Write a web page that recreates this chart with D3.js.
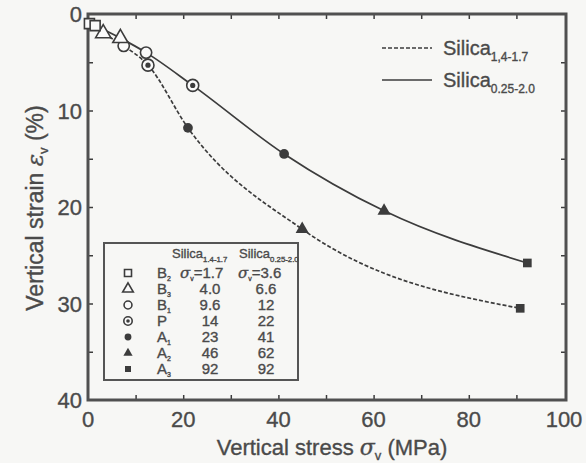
<!DOCTYPE html>
<html>
<head>
<meta charset="utf-8">
<script src="https://cdn.jsdelivr.net/npm/d3@7"></script>
<style>
  body { margin: 0; background: #f7f7f5; }
  svg { display: block; font-family: "Liberation Sans", Arial, sans-serif; }
  text { stroke: #4a4a4a; stroke-width: 0.35px; }
</style>
</head>
<body>
<svg id="chart" width="586" height="463"></svg>
<script>
// stages in loading order (legend rows)
var stages = ['B', 'B', 'B', 'P', 'A', 'A', 'A'];
var stageSubs = ['2', '3', '1', '', '1', '2', '3'];
var symbols = ['square', 'triangle', 'circle', 'circledot', 'disc', 'triangleFill', 'squareFill'];

// Silica 1.4-1.7 (dashed)
var fineStress = [0.3, 3.2, 7.5, 12.6, 21, 45, 90.8];
var fineStrain = [1.0, 2.0, 3.3, 5.3, 11.8, 22.3, 30.5];
var fineLabels = ['1.7', '4.0', '9.6', '14', '23', '46', '92'];

// Silica 0.25-2.0 (solid)
var coarseStress = [1.5, 6.8, 12.2, 22, 41.2, 62.2, 92.3];
var coarseStrain = [1.2, 2.5, 4.0, 7.4, 14.5, 20.4, 25.8];
var coarseLabels = ['3.6', '6.6', '12', '22', '41', '62', '92'];

var xTicks = [0, 20, 40, 60, 80, 100];
var yTicks = [0, 10, 20, 30, 40];

var ink = '#3c3c3c';
var textCol = '#4a4a4a';

var svg = d3.select('#chart');
var margin = {top: 14, right: 20, bottom: 63, left: 88};
var width = 586 - margin.left - margin.right;
var height = 463 - margin.top - margin.bottom;
var g = svg.append('g').attr('transform', 'translate(' + margin.left + ',' + margin.top + ')');

var x = d3.scaleLinear().domain([0, 100]).range([0, width - 2]);
var y = d3.scaleLinear().domain([0, 40]).range([0, height]);

// inward ticks on all four sides
var minorX = d3.range(10, 100, 10);
var minorY = d3.range(5, 40, 5);
g.append('g').attr('transform', 'translate(0,' + height + ')')
  .call(d3.axisTop(x).tickValues(minorX).tickSize(5).tickFormat(''));
g.append('g')
  .call(d3.axisBottom(x).tickValues(minorX).tickSize(5).tickFormat(''));
g.append('g')
  .call(d3.axisRight(y).tickValues(minorY).tickSize(5).tickFormat(''));
g.append('g').attr('transform', 'translate(' + width + ',0)')
  .call(d3.axisLeft(y).tickValues(minorY).tickSize(5).tickFormat(''));
g.selectAll('.domain').remove();
g.selectAll('.tick line').attr('stroke', ink).attr('stroke-width', 1.5);

// frame
g.append('rect')
  .attr('width', width).attr('height', height)
  .attr('fill', 'none').attr('stroke', '#505050').attr('stroke-width', 3);

// tick labels
g.selectAll('.xl').data(xTicks).enter().append('text')
  .attr('x', function(d) { return x(d); })
  .attr('y', height + 27)
  .attr('text-anchor', 'middle')
  .attr('font-size', 22).attr('fill', textCol)
  .text(function(d) { return d; });
g.selectAll('.yl').data(yTicks).enter().append('text')
  .attr('x', -6)
  .attr('y', function(d) { return y(d) + 8; })
  .attr('text-anchor', 'end')
  .attr('font-size', 22).attr('fill', textCol)
  .text(function(d) { return d; });

// axis titles
var xt = svg.append('text')
  .attr('x', 332).attr('y', 455)
  .attr('text-anchor', 'middle')
  .attr('font-size', 22).attr('fill', textCol);
xt.append('tspan').text('Vertical stress ');
xt.append('tspan').attr('font-style', 'italic').attr('font-family', 'DejaVu Serif').text('σ');
xt.append('tspan').attr('font-size', 13).attr('dy', 5).text('v');
xt.append('tspan').attr('dy', -5).text(' (MPa)');

var yt = svg.append('text')
  .attr('transform', 'translate(43,208) rotate(-90)')
  .attr('text-anchor', 'middle')
  .attr('font-size', 23).attr('fill', textCol);
yt.append('tspan').text('Vertical strain ');
yt.append('tspan').attr('font-style', 'italic').attr('font-family', 'DejaVu Serif').text('ε');
yt.append('tspan').attr('font-size', 13).attr('dy', 5).text('v');
yt.append('tspan').attr('dy', -5).text(' (%)');

// curves
var line = d3.line()
  .x(function(d) { return x(d[0]); })
  .y(function(d) { return y(d[1]); })
  .curve(d3.curveMonotoneX);

var finePts = d3.zip(fineStress, fineStrain);
var coarsePts = d3.zip(coarseStress, coarseStrain);

g.append('path').datum(finePts)
  .attr('fill', 'none').attr('stroke', ink).attr('stroke-width', 1.7)
  .attr('stroke-dasharray', '4,2')
  .attr('d', line);
g.append('path').datum(coarsePts)
  .attr('fill', 'none').attr('stroke', ink).attr('stroke-width', 1.7)
  .attr('d', line);

function drawMarker(sel, type, cx, cy, scale) {
  var s = scale || 1;
  var m = sel.append('g').attr('transform', 'translate(' + cx + ',' + cy + ')');
  var open = {square: d3.symbolSquare, triangle: d3.symbolTriangle, circle: d3.symbolCircle};
  var filled = {disc: d3.symbolCircle, triangleFill: d3.symbolTriangle, squareFill: d3.symbolSquare};
  if (open[type]) {
    m.append('path').attr('d', d3.symbol().type(open[type]).size(100 * s * s)())
      .attr('fill', '#fafafa').attr('stroke', ink).attr('stroke-width', 1.6);
  } else if (type === 'circledot') {
    m.append('circle').attr('r', 6 * s).attr('fill', '#fafafa').attr('stroke', ink).attr('stroke-width', 1.6);
    m.append('circle').attr('r', 2.6 * s).attr('fill', ink);
  } else {
    m.append('path').attr('d', d3.symbol().type(filled[type]).size(75 * s * s)())
      .attr('fill', ink);
  }
}

finePts.forEach(function(p, i) { drawMarker(g, symbols[i], x(p[0]), y(p[1]), 1); });
coarsePts.forEach(function(p, i) { drawMarker(g, symbols[i], x(p[0]), y(p[1]), 1); });

// top-right legend
function silica(sel, px, py, size, sub) {
  var t = sel.append('text').attr('x', px).attr('y', py)
    .attr('font-size', size).attr('fill', textCol);
  t.append('tspan').text('Silica');
  t.append('tspan').attr('font-size', size * 0.6).attr('dy', size * 0.3).text(sub);
  return t;
}
svg.append('line').attr('x1', 382).attr('x2', 432).attr('y1', 48).attr('y2', 48)
  .attr('stroke', ink).attr('stroke-width', 1.7).attr('stroke-dasharray', '4,2');
silica(svg, 443, 55, 20, '1,4-1.7');
svg.append('line').attr('x1', 382).attr('x2', 432).attr('y1', 80).attr('y2', 80)
  .attr('stroke', ink).attr('stroke-width', 1.7);
silica(svg, 443, 87, 20, '0.25-2.0');

// stage legend box
var lg = svg.append('g');
lg.append('rect').attr('x', 104).attr('y', 243).attr('width', 194).attr('height', 137)
  .attr('fill', '#f7f7f5').attr('stroke', '#555').attr('stroke-width', 2);
silica(lg, 172, 258, 13, '1.4-1.7');
silica(lg, 239, 258, 13, '0.25-2.0');

var rowY = d3.scaleLinear().domain([0, 6]).range([273, 369]);
stages.forEach(function(s, i) {
  var ry = rowY(i);
  drawMarker(lg, symbols[i], 128, ry, 0.7);
  var t = lg.append('text').attr('x', 157).attr('y', ry + 5)
    .attr('font-size', 15).attr('fill', textCol);
  t.append('tspan').text(s);
  t.append('tspan').attr('font-size', 7).attr('dy', 3).text(stageSubs[i]);
  if (i === 0) {
    var a = lg.append('text').attr('x', 180).attr('y', ry + 5).attr('font-size', 15).attr('fill', textCol);
    a.append('tspan').attr('font-style', 'italic').attr('font-family', 'DejaVu Serif').text('σ');
    a.append('tspan').attr('font-size', 7).attr('dy', 3).text('v');
    a.append('tspan').attr('dy', -3).text('=' + fineLabels[i]);
    var b = lg.append('text').attr('x', 238).attr('y', ry + 5).attr('font-size', 15).attr('fill', textCol);
    b.append('tspan').attr('font-style', 'italic').attr('font-family', 'DejaVu Serif').text('σ');
    b.append('tspan').attr('font-size', 7).attr('dy', 3).text('v');
    b.append('tspan').attr('dy', -3).text('=' + coarseLabels[i]);
  } else {
    lg.append('text').attr('x', 210).attr('y', ry + 5).attr('text-anchor', 'middle')
      .attr('font-size', 15).attr('fill', textCol).text(fineLabels[i]);
    lg.append('text').attr('x', 266).attr('y', ry + 5).attr('text-anchor', 'middle')
      .attr('font-size', 15).attr('fill', textCol).text(coarseLabels[i]);
  }
});
</script>
</body>
</html>
